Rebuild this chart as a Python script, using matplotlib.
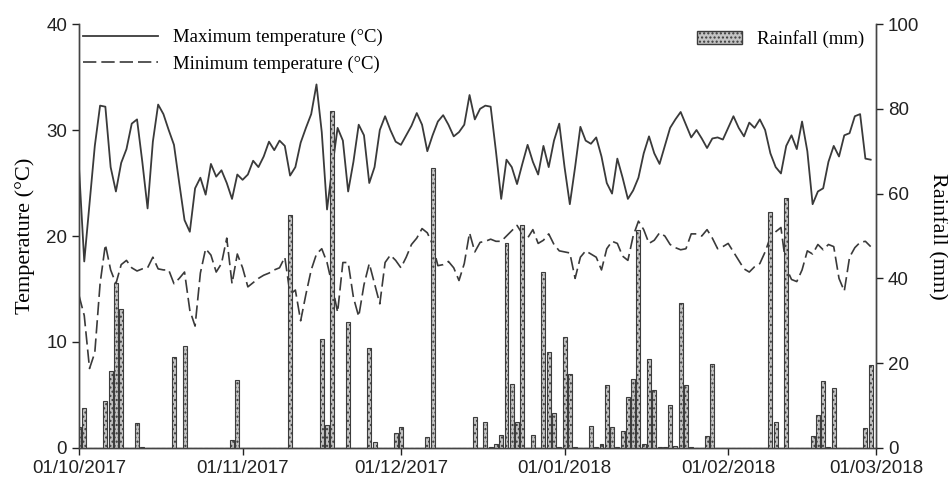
import matplotlib
matplotlib.use("Agg")
import matplotlib.pyplot as plt
import matplotlib.dates as mdates
from matplotlib.lines import Line2D
from matplotlib.patches import Patch
import pandas as pd

# daily data, 01/10/2017 - 28/02/2018
days = pd.date_range("2017-10-01", "2018-02-28", freq="D")

tmax = [26.5, 17.6, 23.0, 28.5, 32.3, 32.2, 26.5, 24.2, 26.9, 28.2,
        30.6, 31.0, 27.0, 22.6, 28.9, 32.4, 31.5, 30.0, 28.6, 25.0,
        21.5, 20.4, 24.5, 25.5, 23.9, 26.8, 25.6, 26.2, 25.0, 23.5,
        25.8, 25.3, 25.8, 27.1, 26.5, 27.5, 28.9, 28.1, 29.0, 28.5,
        25.7, 26.5, 28.8, 30.2, 31.5, 34.3, 29.8, 22.5, 26.5, 30.2,
        29.0, 24.2, 27.0, 30.5, 29.5, 25.0, 26.5, 30.0, 31.3, 30.0,
        28.9, 28.6, 29.5, 30.4, 31.6, 30.5, 28.0, 29.5, 30.8, 31.4,
        30.5, 29.4, 29.8, 30.5, 33.3, 31.0, 32.0, 32.3, 32.2, 28.0,
        23.5, 27.2, 26.5, 24.9, 26.8, 28.6, 27.0, 25.8, 28.5, 26.5,
        29.0, 30.6, 26.5, 23.0, 26.5, 30.3, 29.0, 28.7, 29.3, 27.5,
        25.0, 24.0, 27.3, 25.5, 23.5, 24.3, 25.5, 27.8, 29.4, 27.8,
        26.8, 28.5, 30.2, 31.0, 31.7, 30.5, 29.3, 30.0, 29.2, 28.3,
        29.2, 29.3, 29.1, 30.2, 31.3, 30.2, 29.4, 30.7, 30.2, 31.0,
        30.0, 27.8, 26.5, 25.9, 28.5, 29.5, 28.2, 30.8, 28.0, 23.0,
        24.2, 24.5, 27.0, 28.5, 27.5, 29.5, 29.7, 31.3, 31.5, 27.3,
        27.2]

tmin = [14.4, 12.5, 7.5, 9.0, 15.5, 19.2, 16.8, 15.5, 17.3, 17.7,
        17.0, 16.7, 16.9, 17.0, 18.0, 16.9, 16.8, 16.8, 15.5, 16.0,
        16.6, 13.0, 11.5, 16.5, 18.8, 18.2, 16.6, 17.4, 19.8, 15.5,
        18.3, 17.0, 15.2, 15.6, 16.0, 16.3, 16.5, 16.8, 17.0, 18.0,
        14.5, 14.9, 12.0, 14.5, 16.8, 18.3, 18.8, 17.5, 15.3, 12.8,
        17.5, 17.5, 14.2, 12.4, 15.4, 17.4, 15.5, 13.6, 17.5, 18.2,
        17.7, 17.0, 18.0, 19.2, 19.8, 20.7, 20.3, 19.2, 17.2, 17.3,
        17.6, 17.0, 15.8, 17.4, 20.3, 18.5, 19.4, 19.5, 19.7, 19.5,
        19.5, 20.0, 20.5, 21.0, 20.2, 19.8, 20.6, 19.3, 19.6, 20.2,
        19.2, 18.6, 18.5, 18.4, 16.0, 18.0, 18.6, 18.3, 18.0, 16.8,
        18.8, 19.5, 19.3, 18.1, 17.7, 20.0, 21.4, 20.6, 19.3, 19.6,
        20.3, 20.0, 19.2, 18.9, 18.7, 18.8, 20.2, 20.2, 20.0, 20.6,
        19.8, 18.8, 19.0, 19.3, 18.5, 17.7, 16.9, 16.6, 17.1, 17.4,
        18.5, 19.9, 20.4, 20.8, 17.0, 15.9, 15.7, 16.8, 18.6, 18.3,
        19.2, 18.7, 19.2, 19.0, 16.0, 14.8, 18.0, 18.9, 19.4, 19.5,
        19.0]

rain = [5.0, 9.5, 0, 0, 0, 11.1, 18.2, 38.8, 32.7, 0,
        0, 6.0, 0.3, 0, 0, 0, 0, 0, 21.4, 0,
        24.1, 0, 0, 0, 0, 0, 0, 0, 0, 1.9,
        16.0, 0, 0, 0, 0, 0, 0, 0, 0, 0,
        55.0, 0, 0, 0, 0, 0, 25.6, 5.4, 79.6, 0,
        0, 29.8, 0, 0, 0, 23.7, 1.3, 0, 0, 0,
        3.5, 5.0, 0, 0, 0, 0, 2.7, 66.0, 0, 0,
        0, 0, 0, 0, 0, 7.4, 0, 6.2, 0.2, 0.9,
        3.1, 48.4, 15.2, 6.2, 52.6, 0, 3.1, 0, 41.6, 22.6,
        8.3, 0.3, 26.1, 17.4, 0.2, 0, 0, 5.2, 0.3, 1.0,
        14.9, 5.0, 0.2, 3.9, 12.1, 16.2, 51.4, 0.9, 20.9, 13.7,
        0.3, 0.3, 10.1, 0.5, 34.1, 14.9, 0.3, 0, 0, 2.8,
        19.7, 0, 0, 0, 0, 0, 0, 0, 0, 0,
        0, 55.7, 6.2, 0, 58.9, 0, 0, 0, 0, 2.8,
        7.8, 15.9, 0.3, 14.2, 0, 0, 0, 0, 0, 4.6,
        19.6]

serif = "Liberation Serif"
sans = "Liberation Sans"
line_c = "#3a3a3a"
dash = (0, (8, 3))

fig = plt.figure(figsize=(9.48, 4.86), dpi=100)
ax = fig.add_axes([0.0833, 0.0782, 0.8407, 0.8724])
ax2 = ax.twinx()

ax.plot(days, tmax, color=line_c, lw=1.3)
ax.plot(days, tmin, color=line_c, lw=1.2, linestyle=dash)

ax2.bar(days, rain, width=0.75, color="#c4c4c4", edgecolor="#3c3c3c",
        linewidth=0.8, hatch="....")

ax.set_xlim(pd.Timestamp("2017-10-01"), pd.Timestamp("2018-03-01"))
ax.set_ylim(0, 40)
ax2.set_ylim(0, 100)
ax.set_yticks([0, 10, 20, 30, 40])
ax2.set_yticks([0, 20, 40, 60, 80, 100])

ax.xaxis.set_major_locator(mdates.MonthLocator())
ax.xaxis.set_major_formatter(mdates.DateFormatter("%d/%m/%Y"))

for a in (ax, ax2):
    a.spines["top"].set_visible(False)
    for s in a.spines.values():
        s.set_color("#444444")
        s.set_linewidth(1.0)
    a.tick_params(colors="#222222", labelsize=13.5, length=5, width=1.0,
                  direction="out")
    for lab in a.get_xticklabels() + a.get_yticklabels():
        lab.set_family(sans)

ax.set_ylabel("Temperature (°C)", family=serif, fontsize=16, labelpad=8)
ax2.set_ylabel("Rainfall (mm)", family=serif, fontsize=16, rotation=270,
               labelpad=20)

h1 = [Line2D([], [], color=line_c, lw=1.3),
      Line2D([], [], color=line_c, lw=1.2, linestyle=dash)]
ax.legend(h1, ["Maximum temperature (°C)", "Minimum temperature (°C)"],
          loc="upper left", bbox_to_anchor=(0.0, 0.997), frameon=False,
          handlelength=4.0, prop={"family": serif, "size": 13.5},
          borderaxespad=0, borderpad=0.2, labelspacing=0.5,
          handletextpad=0.8)
ax2.legend([Patch(facecolor="#c4c4c4", edgecolor="#3c3c3c", hatch="....")],
           ["Rainfall (mm)"], loc="upper right", bbox_to_anchor=(0.995, 1.004),
           frameon=False, handlelength=2.4,
           prop={"family": serif, "size": 13.5}, borderaxespad=0)

fig.savefig("out.png", dpi=100)
